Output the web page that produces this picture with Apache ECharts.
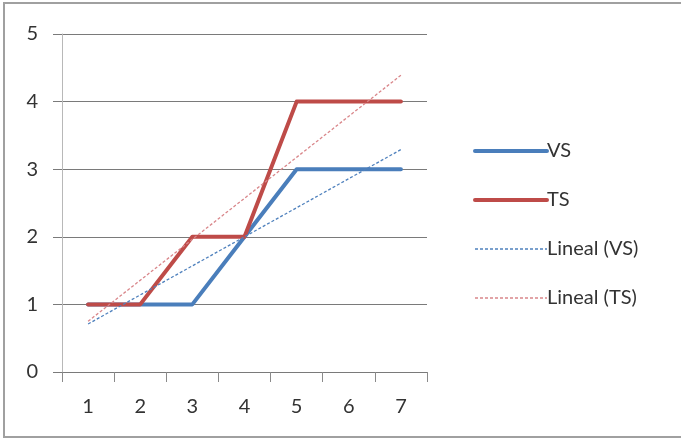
<!DOCTYPE html>
<html>
<head>
<meta charset="utf-8">
<script src="https://cdn.jsdelivr.net/npm/echarts@6/dist/echarts.min.js"></script>
<style>
  html, body { margin: 0; padding: 0; background: #fff; }
  #chart { width: 681px; height: 439px; }
</style>
</head>
<body>
<div id="chart"></div>
<script>
// Categories along the x axis
const categories = ['1', '2', '3', '4', '5', '6', '7'];
// Series values
const vsValues = [1, 1, 1, 2, 3, 3, 3];
const tsValues = [1, 1, 2, 2, 4, 4, 4];
// Linear trend lines: values at the first and last category
const trendVS = [0.71, null, null, null, null, null, 3.29];
const trendTS = [0.75, null, null, null, null, null, 4.39];
// Y axis range
const yMin = 0, yMax = 5, yStep = 1;

const textColor = '#333333';
const font = 'Lato, "Open Sans", sans-serif';

const chart = echarts.init(document.getElementById('chart'), null, { renderer: 'canvas' });

chart.setOption({
  animation: false,
  backgroundColor: '#ffffff',
  graphic: [{
    type: 'rect',
    shape: { x: 4, y: 3, width: 700, height: 434 },
    style: { fill: 'none', stroke: '#a0a0a0', lineWidth: 2 },
    silent: true,
    z: -1
  }],
  grid: { left: 62, right: 254, top: 34, bottom: 67, containLabel: false },
  legend: {
    orient: 'vertical',
    left: 468,
    top: 136,
    itemWidth: 72,
    itemHeight: 20,
    itemGap: 29,
    itemStyle: { opacity: 0 },
    textStyle: { color: textColor, fontSize: 20, fontFamily: font, padding: [0, 0, 0, -5] },
    data: [
      { name: 'VS', lineStyle: { width: 4, cap: 'round' } },
      { name: 'TS', lineStyle: { width: 4, cap: 'round' } },
      { name: 'Lineal (VS)', lineStyle: { width: 1.3 } },
      { name: 'Lineal (TS)', lineStyle: { width: 1.3 } }
    ]
  },
  xAxis: {
    type: 'category',
    data: categories,
    boundaryGap: true,
    axisLine: { show: true, lineStyle: { color: '#7a7a7a', width: 1 } },
    axisTick: { show: true, length: 10, lineStyle: { color: '#8a8a8a' } },
    axisLabel: { color: textColor, fontSize: 20, fontFamily: font, margin: 25 },
    splitLine: { show: false }
  },
  yAxis: {
    type: 'value',
    min: yMin,
    max: yMax,
    interval: yStep,
    axisLine: { show: true, lineStyle: { color: '#b8b8b8', width: 1 } },
    axisTick: { show: true, length: 9, lineStyle: { color: '#7a7a7a' } },
    axisLabel: { color: textColor, fontSize: 20, fontFamily: font, margin: 24 },
    splitLine: { show: true, lineStyle: { color: '#7a7a7a', width: 1 } }
  },
  series: [
    {
      name: 'VS',
      type: 'line',
      data: vsValues,
      symbol: 'none',
      color: '#4a7ebb',
      lineStyle: { width: 4, color: '#4a7ebb', cap: 'round', join: 'round' },
      z: 3
    },
    {
      name: 'TS',
      type: 'line',
      data: tsValues,
      symbol: 'none',
      color: '#be4b48',
      lineStyle: { width: 4, color: '#be4b48', cap: 'round', join: 'round' },
      z: 4
    },
    {
      name: 'Lineal (VS)',
      type: 'line',
      data: trendVS,
      connectNulls: true,
      symbol: 'none',
      color: '#4f81bd',
      lineStyle: { width: 1.3, color: '#4f81bd', type: [3, 2] },
      z: 5
    },
    {
      name: 'Lineal (TS)',
      type: 'line',
      data: trendTS,
      connectNulls: true,
      symbol: 'none',
      color: '#d9868a',
      lineStyle: { width: 1.3, color: '#d9868a', type: [3, 2] },
      z: 5
    }
  ]
});
</script>
</body>
</html>
